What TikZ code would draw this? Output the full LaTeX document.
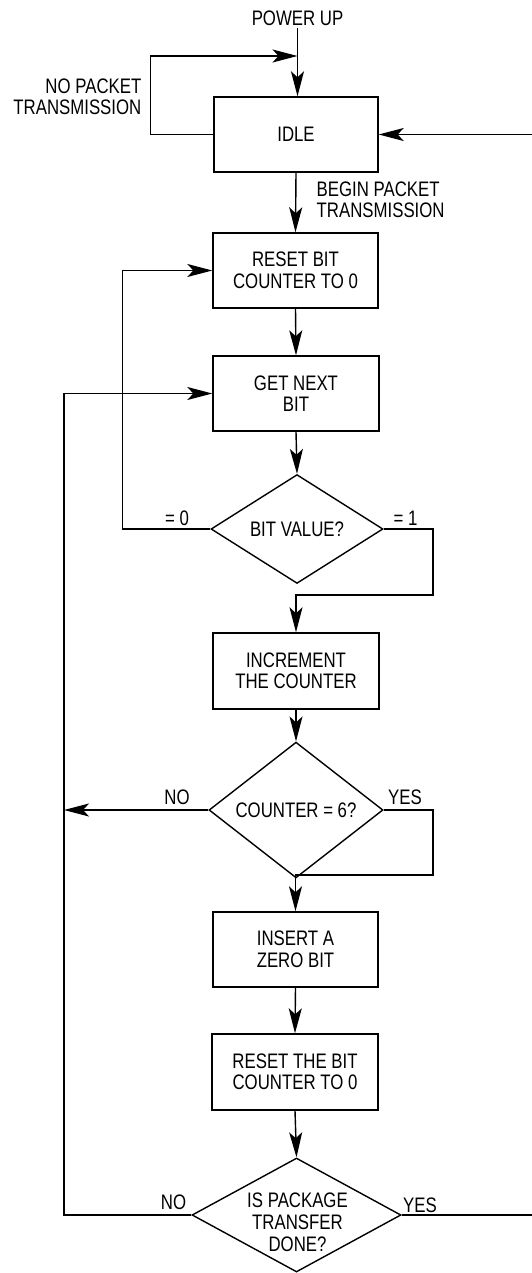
\documentclass[tikz,border=0pt]{standalone}
\usepackage{fontspec}
\setmainfont{Liberation Sans}[FakeStretch=0.80]
\usetikzlibrary{shapes.geometric,arrows.meta}
\begin{document}
\begin{tikzpicture}[x=1pt,y=-1pt, line width=1.4pt,
  font=\fontsize{21}{21.5}\selectfont,
  box/.style={draw, rectangle, minimum width=165pt, minimum height=75pt, inner sep=0pt, align=center},
  dec/.style={draw, diamond, inner sep=0pt, align=center},
  arr/.style={-{Stealth[length=25pt,width=13pt,inset=6pt]}},
  lbl/.style={inner sep=0pt, align=center}]
\useasboundingbox (0,0) rectangle (532,1273);

% nodes
\node[lbl, inner sep=2pt] (power) at (297.5,18) {POWER UP};
\node[box, minimum width=164pt] (idle) at (296,134.5) {IDLE};
\node[box] (reset) at (295.5,270.5) {RESET BIT\\COUNTER TO 0};
\node[box, minimum width=166pt] (get) at (296,393.5) {GET NEXT\\BIT};
\node[dec, minimum width=172pt, minimum height=95pt] (bitv) at (297,529) {BIT VALUE?};
\node[box, minimum width=166pt, minimum height=76pt] (inc) at (296,671) {INCREMENT\\THE COUNTER};
\node[dec, minimum width=174pt, minimum height=96pt] (cnt) at (296,810) {COUNTER = 6?};
\node[box] (ins) at (295.5,949.5) {INSERT A\\ZERO BIT};
\node[box, minimum width=166pt, minimum height=76pt] (rst2) at (295,1072) {RESET THE BIT\\COUNTER TO 0};
\node[dec, minimum width=209pt, minimum height=114pt] (done) at (296.5,1215) {};
\node[lbl, font=\fontsize{21}{22}\selectfont] (donetxt) at (297.5,1222) {IS PACKAGE\\TRANSFER\\DONE?};

% labels
\node[lbl, align=right, anchor=east] (nplbl) at (142,97) {NO PACKET\\TRANSMISSION};
\node[lbl, align=left, anchor=west] (bplbl) at (316,200) {BEGIN PACKET\\TRANSMISSION};
\node[lbl] (z0) at (177,518) {= 0};
\node[lbl] (z1) at (405.5,518) {= 1};
\node[lbl] (no1) at (177,797) {NO};
\node[lbl] (yes1) at (405,797) {YES};
\node[lbl] (no2) at (173.5,1202) {NO};
\node[lbl] (yes2) at (420,1205) {YES};

% helper coordinates
\coordinate (j1) at (297.5,56);
\coordinate (L) at (64,0);
\coordinate (c1) at (433,595);
\coordinate (c2) at (433,875);
\coordinate (rin) at (532,134.5);
\coordinate (rout) at (532,1215);

% connectors
\draw[arr] (power.south) -- (power.south |- idle.north);
\draw[arr] (idle.west) -- ++(-63,0) |- (j1);
\draw[arr] (rin) -- (idle.east);
\draw[arr] (idle.south) -- (reset.north);
\draw[arr] (reset.south) -- (get.north);
\draw[arr] (get.south) -- (bitv.north);
\draw[arr] (bitv.west) -- ++(-88,0) |- (reset.west);
\draw[arr] (bitv.east) -| (c1) -| (inc.north);
\draw[arr] (inc.south) -- (cnt.north);
\draw[arr] (cnt.west) -- (cnt.west -| L);
\draw[arr] (cnt.east) -| (c2) -| (ins.north);
\draw[arr] (ins.south) -- (rst2.north);
\draw[arr] (rst2.south) -- (done.north);
\draw[arr] (done.west) -| (L |- get.west) -- (get.west);
\draw (done.east) -- (rout);
\end{tikzpicture}
\end{document}
